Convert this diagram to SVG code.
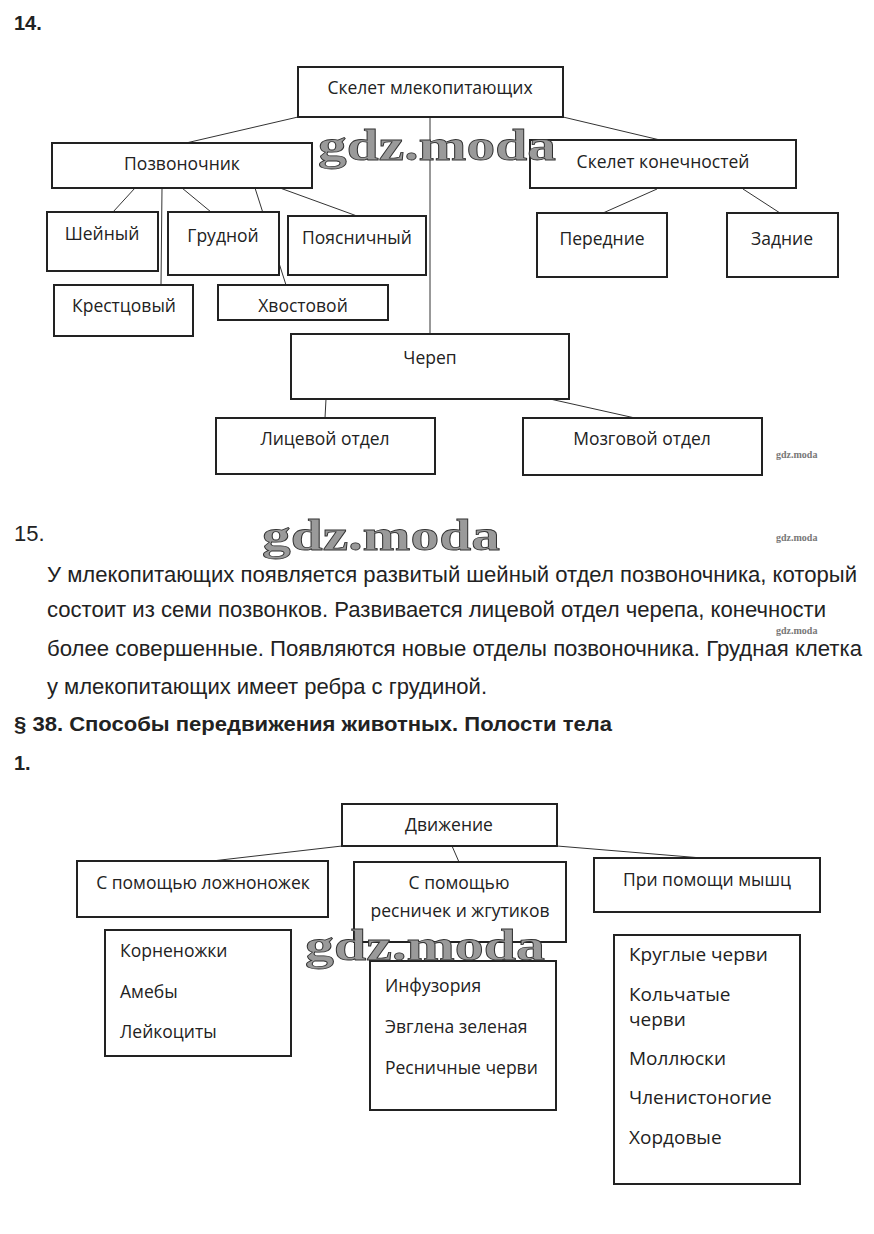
<svg xmlns="http://www.w3.org/2000/svg" width="874" height="1234" viewBox="0 0 874 1234">
<style>
.box{fill:#fff;stroke:#222;stroke-width:2}
.lbl{font-family:"Open Sans","DejaVu Sans",sans-serif;font-size:17.5px;fill:#222}
.big{font-size:19px}
.c{text-anchor:middle}
.cn{stroke:#333;stroke-width:1;fill:none}
.num{font-family:"Liberation Sans",Arial,sans-serif;font-weight:bold;font-size:20px;fill:#222}
.par{font-family:"Liberation Sans",Arial,sans-serif;font-size:22px;fill:#222}
.wm{font-family:"Liberation Serif","Times New Roman",serif;font-weight:bold;font-size:44px;fill:#9a9a9a;stroke:#333;stroke-width:0.8}
.wms{font-family:"Liberation Serif","Times New Roman",serif;font-weight:bold;font-size:10px;fill:#777}
</style>
<rect width="874" height="1234" fill="#fff"/>
<text class="num" x="14" y="30">14.</text>

<g id="connectors">
<line class="cn" x1="298" y1="117" x2="186" y2="143"/>
<line class="cn" x1="563" y1="117" x2="660" y2="140"/>
<line class="cn" x1="430" y1="117" x2="430" y2="334"/>
<line class="cn" x1="657" y1="189" x2="603" y2="213"/>
<line class="cn" x1="743" y1="189" x2="780" y2="213"/>
<line class="cn" x1="135" y1="188" x2="113" y2="212"/>
<line class="cn" x1="162" y1="188" x2="161" y2="285"/>
<line class="cn" x1="182" y1="188" x2="211" y2="212"/>
<line class="cn" x1="255" y1="188" x2="286" y2="285"/>
<line class="cn" x1="280" y1="188" x2="357" y2="216"/>
<line class="cn" x1="326" y1="399" x2="325" y2="418"/>
<line class="cn" x1="550" y1="399" x2="635" y2="418"/>
<line class="cn" x1="342" y1="846" x2="212" y2="861"/>
<line class="cn" x1="452" y1="846" x2="459" y2="862"/>
<line class="cn" x1="557" y1="846" x2="702" y2="858"/>
</g>

<g id="n-skelet"><rect class="box" x="298" y="67" width="265" height="50"/><text class="lbl c" x="430" y="94">Скелет млекопитающих</text></g>
<g id="n-pozv"><rect class="box" x="52" y="143" width="260" height="45"/><text class="lbl c" x="182" y="170">Позвоночник</text></g>
<g id="n-konech"><rect class="box" x="530" y="140" width="266" height="48"/><text class="lbl c" x="663" y="168">Скелет конечностей</text></g>
<g id="n-perednie"><rect class="box" x="537" y="213" width="130" height="64"/><text class="lbl c" x="602" y="245">Передние</text></g>
<g id="n-zadnie"><rect class="box" x="727" y="213" width="111" height="64"/><text class="lbl c" x="782" y="245">Задние</text></g>
<g id="n-sheiny"><rect class="box" x="47" y="212" width="111" height="59"/><text class="lbl c" x="102" y="240">Шейный</text></g>
<g id="n-grudnoi"><rect class="box" x="168" y="212" width="111" height="63"/><text class="lbl c" x="223" y="242">Грудной</text></g>
<g id="n-poyasn"><rect class="box" x="288" y="216" width="138" height="59"/><text class="lbl c" x="357" y="244">Поясничный</text></g>
<g id="n-kresttsovy"><rect class="box" x="54" y="285" width="139" height="51"/><text class="lbl c" x="124" y="312">Крестцовый</text></g>
<g id="n-hvostovoi"><rect class="box" x="218" y="285" width="170" height="35"/><text class="lbl c" x="303" y="312">Хвостовой</text></g>
<g id="n-cherep"><rect class="box" x="291" y="334" width="278" height="65"/><text class="lbl c" x="430" y="364">Череп</text></g>
<g id="n-litsevoi"><rect class="box" x="216" y="418" width="219" height="56"/><text class="lbl c" x="325" y="445">Лицевой отдел</text></g>
<g id="n-mozgovoi"><rect class="box" x="523" y="418" width="239" height="57"/><text class="lbl c" x="642" y="445">Мозговой отдел</text></g>

<text class="par" x="14" y="541">15.</text>
<text class="par" x="47" y="582" textLength="810" lengthAdjust="spacingAndGlyphs">У млекопитающих появляется развитый шейный отдел позвоночника, который</text>
<text class="par" x="47" y="617" textLength="779" lengthAdjust="spacingAndGlyphs">состоит из семи позвонков. Развивается лицевой отдел черепа, конечности</text>
<text class="par" x="47" y="656" textLength="815" lengthAdjust="spacingAndGlyphs">более совершенные. Появляются новые отделы позвоночника. Грудная клетка</text>
<text class="par" x="47" y="694" textLength="440" lengthAdjust="spacingAndGlyphs">у млекопитающих имеет ребра с грудиной.</text>
<text class="num" x="14" y="731" textLength="598" lengthAdjust="spacingAndGlyphs" style="font-size:21px">§ 38. Способы передвижения животных. Полости тела</text>
<text class="num" x="14" y="770">1.</text>

<g id="n-dvizhenie"><rect class="box" x="342" y="804" width="215" height="42"/><text class="lbl c" x="449" y="831">Движение</text></g>
<g id="n-lozhno"><rect class="box" x="77" y="861" width="251" height="56"/><text class="lbl c" x="203" y="889">С помощью ложноножек</text></g>
<g id="n-resnich"><rect class="box" x="354" y="862" width="212" height="80"/><text class="lbl c" x="459" y="889">С помощью</text><text class="lbl c" x="460" y="917">ресничек и жгутиков</text></g>
<g id="n-myshts"><rect class="box" x="594" y="858" width="226" height="54"/><text class="lbl c" x="707" y="886">При помощи мышц</text></g>
<g id="n-list1"><rect class="box" x="105" y="930" width="186" height="126"/><text class="lbl" x="120" y="957">Корненожки</text><text class="lbl" x="120" y="998">Амебы</text><text class="lbl" x="120" y="1038">Лейкоциты</text></g>
<g id="n-list2"><rect class="box" x="370" y="961" width="186" height="149"/><text class="lbl" x="385" y="992">Инфузория</text><text class="lbl" x="385" y="1033">Эвглена зеленая</text><text class="lbl" x="385" y="1074">Ресничные черви</text></g>
<g id="n-list3"><rect class="box" x="614" y="935" width="186" height="249"/><text class="lbl big" x="629" y="961">Круглые черви</text><text class="lbl big" x="629" y="1001">Кольчатые</text><text class="lbl big" x="629" y="1026">черви</text><text class="lbl big" x="629" y="1065">Моллюски</text><text class="lbl big" x="629" y="1104">Членистоногие</text><text class="lbl big" x="629" y="1144">Хордовые</text></g>

<g id="watermarks">
<text class="wm" x="318" y="160" textLength="238" lengthAdjust="spacingAndGlyphs">gdz.moda</text>
<text class="wm" x="262" y="550" textLength="238" lengthAdjust="spacingAndGlyphs">gdz.moda</text>
<text class="wm" x="305" y="960" textLength="240" lengthAdjust="spacingAndGlyphs">gdz.moda</text>
<text class="wms" x="776" y="458">gdz.moda</text>
<text class="wms" x="776" y="541">gdz.moda</text>
<text class="wms" x="776" y="634">gdz.moda</text>
</g>
</svg>
